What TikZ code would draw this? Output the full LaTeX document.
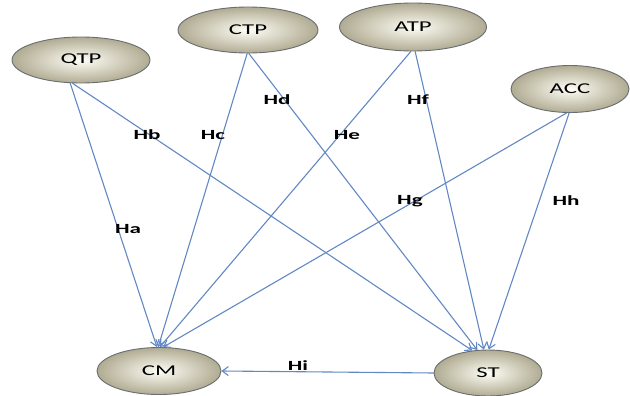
\documentclass[tikz,border=0pt]{standalone}
\usepackage{fontspec}
\setmainfont[FakeStretch=1.65]{Carlito}
\usetikzlibrary{shapes.geometric,arrows.meta}
\definecolor{linkblue}{RGB}{98,136,196}
\definecolor{rimgray}{RGB}{105,108,112}
\definecolor{ovalin}{RGB}{255,254,246}
\definecolor{ovalout}{RGB}{176,171,146}
\begin{document}
\begin{tikzpicture}[x=1pt,y=-1pt,line join=round,line cap=round,font=\fontsize{15}{17}\selectfont,
	oval/.style={ellipse,draw=rimgray,line width=0.9pt,inner color=ovalin,outer color=ovalout,inner sep=0pt},
	link/.style={draw=linkblue,line width=1.1pt,-{Straight Barb[length=6pt,width=9pt]}},
	lbl/.style={font=\fontsize{14}{16}\selectfont\bfseries}]
	%	\draw (0,0) grid (630,396);
	\useasboundingbox (0,0) rectangle (630,396);
	\node[oval,minimum width=138pt,minimum height=46pt] (qtp) at (81,60) {QTP};
	\node[oval,minimum width=140pt,minimum height=46pt] (ctp) at (248,30) {CTP};
	\node[oval,minimum width=147pt,minimum height=48pt] (atp) at (413,27) {ATP};
	\node[oval,minimum width=118pt,minimum height=47pt] (acc) at (570,89) {ACC};
	\node[oval,minimum width=124pt,minimum height=47pt] (cm) at (159,371) {CM};
	\node[oval,minimum width=108pt,minimum height=46pt] (st) at (488,373) {ST};
	
	\draw[link] (qtp.245)--(cm.95);
	\draw[link] (qtp.250)--(st.125);
	\draw[link] (ctp.268)--(cm.92);
	\draw[link] (ctp.272)--(st.115);
	\draw[link] (atp.265)--(cm.88);
	\draw[link] (atp.275)--(st.100);
	\draw[link] (acc.262)--(cm.80);
	\draw[link] (acc.268)--(st.88);
	\draw[link] (st.west)--(cm.east);
	
	\node[lbl] (ha) at (128,229) {Ha};
	\node[lbl] (hb) at (147,135) {Hb};
	\node[lbl] (hc) at (213,135) {Hc};
	\node[lbl] (hd) at (277,100) {Hd};
	\node[lbl] (he) at (347,135) {He};
	\node[lbl] (hf) at (418,100) {Hf};
	\node[lbl] (hg) at (410,201) {Hg};
	\node[lbl] (hh) at (566,201) {Hh};
	\node[lbl] (hi) at (298,366) {Hi};
\end{tikzpicture}
\end{document}
